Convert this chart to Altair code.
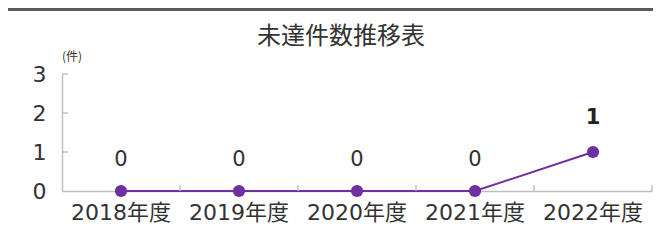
import altair as alt
import pandas as pd

years = ["2018年度", "2019年度", "2020年度", "2021年度", "2022年度"]
counts = [0, 0, 0, 0, 1]
y_ticks = [1, 2, 3]
unit_label = ["(件)"]
title_text = ["未達件数推移表"]

PURPLE = "#6E2FA0"
TEXT = "#333333"
AXIS = "#BFBFBF"
FONT = "DejaVu Sans, Noto Sans CJK JP"
JP = "Noto Sans CJK JP"

df = pd.DataFrame({"year": years, "value": counts})
tick_df = pd.DataFrame({"value": y_ticks})
unit_df = pd.DataFrame({"t": unit_label})
title_df = pd.DataFrame({"t": title_text})

W, H = 590, 117

xscale = alt.Scale(domain=years, paddingInner=0, paddingOuter=0)
yscale = alt.Scale(domain=[0, 3], nice=False)
xaxis = alt.Axis(title=None, labelAngle=0, ticks=False, domainColor=AXIS,
                 domainWidth=1.5, labelFontSize=22, labelFont=FONT,
                 labelColor=TEXT, labelPadding=11, labelLimit=200,
                 labelOverlap=False, bandPosition=0.5)
yaxis = alt.Axis(title=None, values=[0, 1, 2, 3], grid=False, ticks=False,
                 domainColor=AXIS, domainWidth=1.5, labelFontSize=22,
                 labelFont=FONT, labelColor=TEXT, labelPadding=16,
                 labelOverlap=False)

xenc = alt.X("year:N", sort=years, scale=xscale, axis=xaxis)
yenc = alt.Y("value:Q", scale=yscale, axis=yaxis)

base = alt.Chart(df)

line = base.mark_line(color=PURPLE, strokeWidth=2).encode(x=xenc, y=yenc)
pts = base.mark_circle(size=150, opacity=1, color=PURPLE).encode(x=xenc, y=yenc)
lab0 = base.transform_filter("datum.value == 0").mark_text(
    dy=-31, baseline="middle", fontSize=21, font=FONT, color=TEXT
).encode(x=xenc, y=yenc, text=alt.Text("value:Q"))
lab1 = base.transform_filter("datum.value > 0").mark_text(
    dy=-34, baseline="middle", fontSize=21, font=FONT, color="#222222", fontWeight="bold"
).encode(x=xenc, y=yenc, text=alt.Text("value:Q"))

xticks = base.mark_rule(color=AXIS, strokeWidth=1.5).encode(
    x=alt.X("year:N", sort=years, scale=xscale, axis=xaxis, bandPosition=1),
    y=alt.value(H - 6), y2=alt.value(H))

yticks = alt.Chart(tick_df).mark_rule(color=AXIS, strokeWidth=1.5).encode(
    y=yenc, x=alt.value(0), x2=alt.value(6))

unit = alt.Chart(unit_df).mark_text(
    align="left", baseline="middle", fontSize=12, font=JP, color=TEXT
).encode(text="t:N", x=alt.value(0), y=alt.value(-17))

title = alt.Chart(title_df).mark_text(
    align="center", baseline="middle", fontSize=24, font=JP, color=TEXT
).encode(text="t:N", x=alt.value(279), y=alt.value(-37))

border = alt.Chart(unit_df).mark_rule(color="#5a5a5a", strokeWidth=3).encode(
    x=alt.value(-54), x2=alt.value(W + 1), y=alt.value(-64.5))

chart = alt.layer(line, border, xticks, yticks, pts, lab0, lab1, unit, title).properties(
    width=W, height=H,
    autosize="none",
    padding={"left": 54, "top": 66, "right": 1, "bottom": 42},
    background="white",
).configure_view(strokeWidth=0)

chart.save("out.html", embed_options={"renderer": "svg", "actions": False})
